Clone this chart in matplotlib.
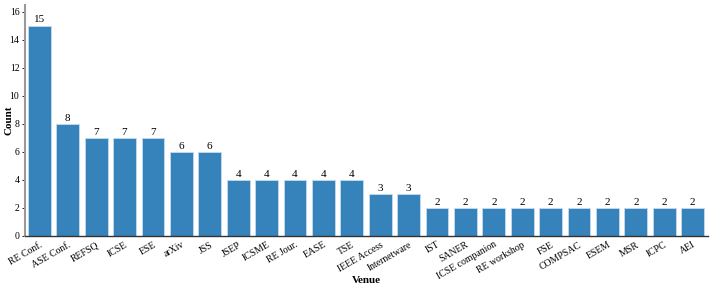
import matplotlib
matplotlib.use("Agg")
import matplotlib.pyplot as plt

# Venue counts
venues = ["RE Conf.", "ASE Conf.", "REFSQ", "ICSE", "ESE", "arXiv", "JSS", "JSEP",
          "ICSME", "RE Jour.", "EASE", "TSE", "IEEE Access", "Internetware", "IST",
          "SANER", "ICSE companion", "RE workshop", "FSE", "COMPSAC", "ESEM", "MSR",
          "ICPC", "AEI"]
counts = [15, 8, 7, 7, 7, 6, 6, 4, 4, 4, 4, 4, 3, 3, 2, 2, 2, 2, 2, 2, 2, 2, 2, 2]
yticks = [0, 2, 4, 6, 8, 10, 12, 14, 16]

plt.rcParams['font.family'] = ['Liberation Serif', 'DejaVu Serif']

fig = plt.figure(figsize=(7.14, 2.86), dpi=100)
ax = fig.add_axes([0.035, 0.175, 0.957, 0.808])

x = range(len(venues))
ax.bar(x, counts, width=0.8, color="#3683bb", edgecolor="#c6dbef", linewidth=0.6)

for xi, c in zip(x, counts):
    ax.text(xi, c + 0.1, str(c), ha="center", va="bottom", fontsize=8)

ax.set_xlim(-0.505, len(venues) - 0.45)
ax.set_ylim(0, 16.5)
ax.set_yticks(yticks)
ax.tick_params(axis="y", labelsize=7, length=2, width=0.6, pad=2)
ax.set_xticks(list(x))
ax.set_xticklabels(venues, rotation=30, ha="right", rotation_mode="anchor", fontsize=7)
ax.tick_params(axis="x", length=0, pad=3)

ax.spines["top"].set_visible(False)
ax.spines["right"].set_visible(False)
ax.spines["left"].set_color("#999999")
ax.spines["left"].set_linewidth(1.5)
ax.spines["bottom"].set_color("#333333")
ax.spines["bottom"].set_linewidth(1.0)

ax.set_ylabel("Count", fontsize=8, fontweight="bold", va="center")
ax.yaxis.set_label_coords(-0.023, 0.5)
ax.set_xlabel("Venue", fontsize=8, fontweight="bold")
ax.xaxis.set_label_coords(0.5, -0.175)

fig.savefig("out.png", dpi=100)
